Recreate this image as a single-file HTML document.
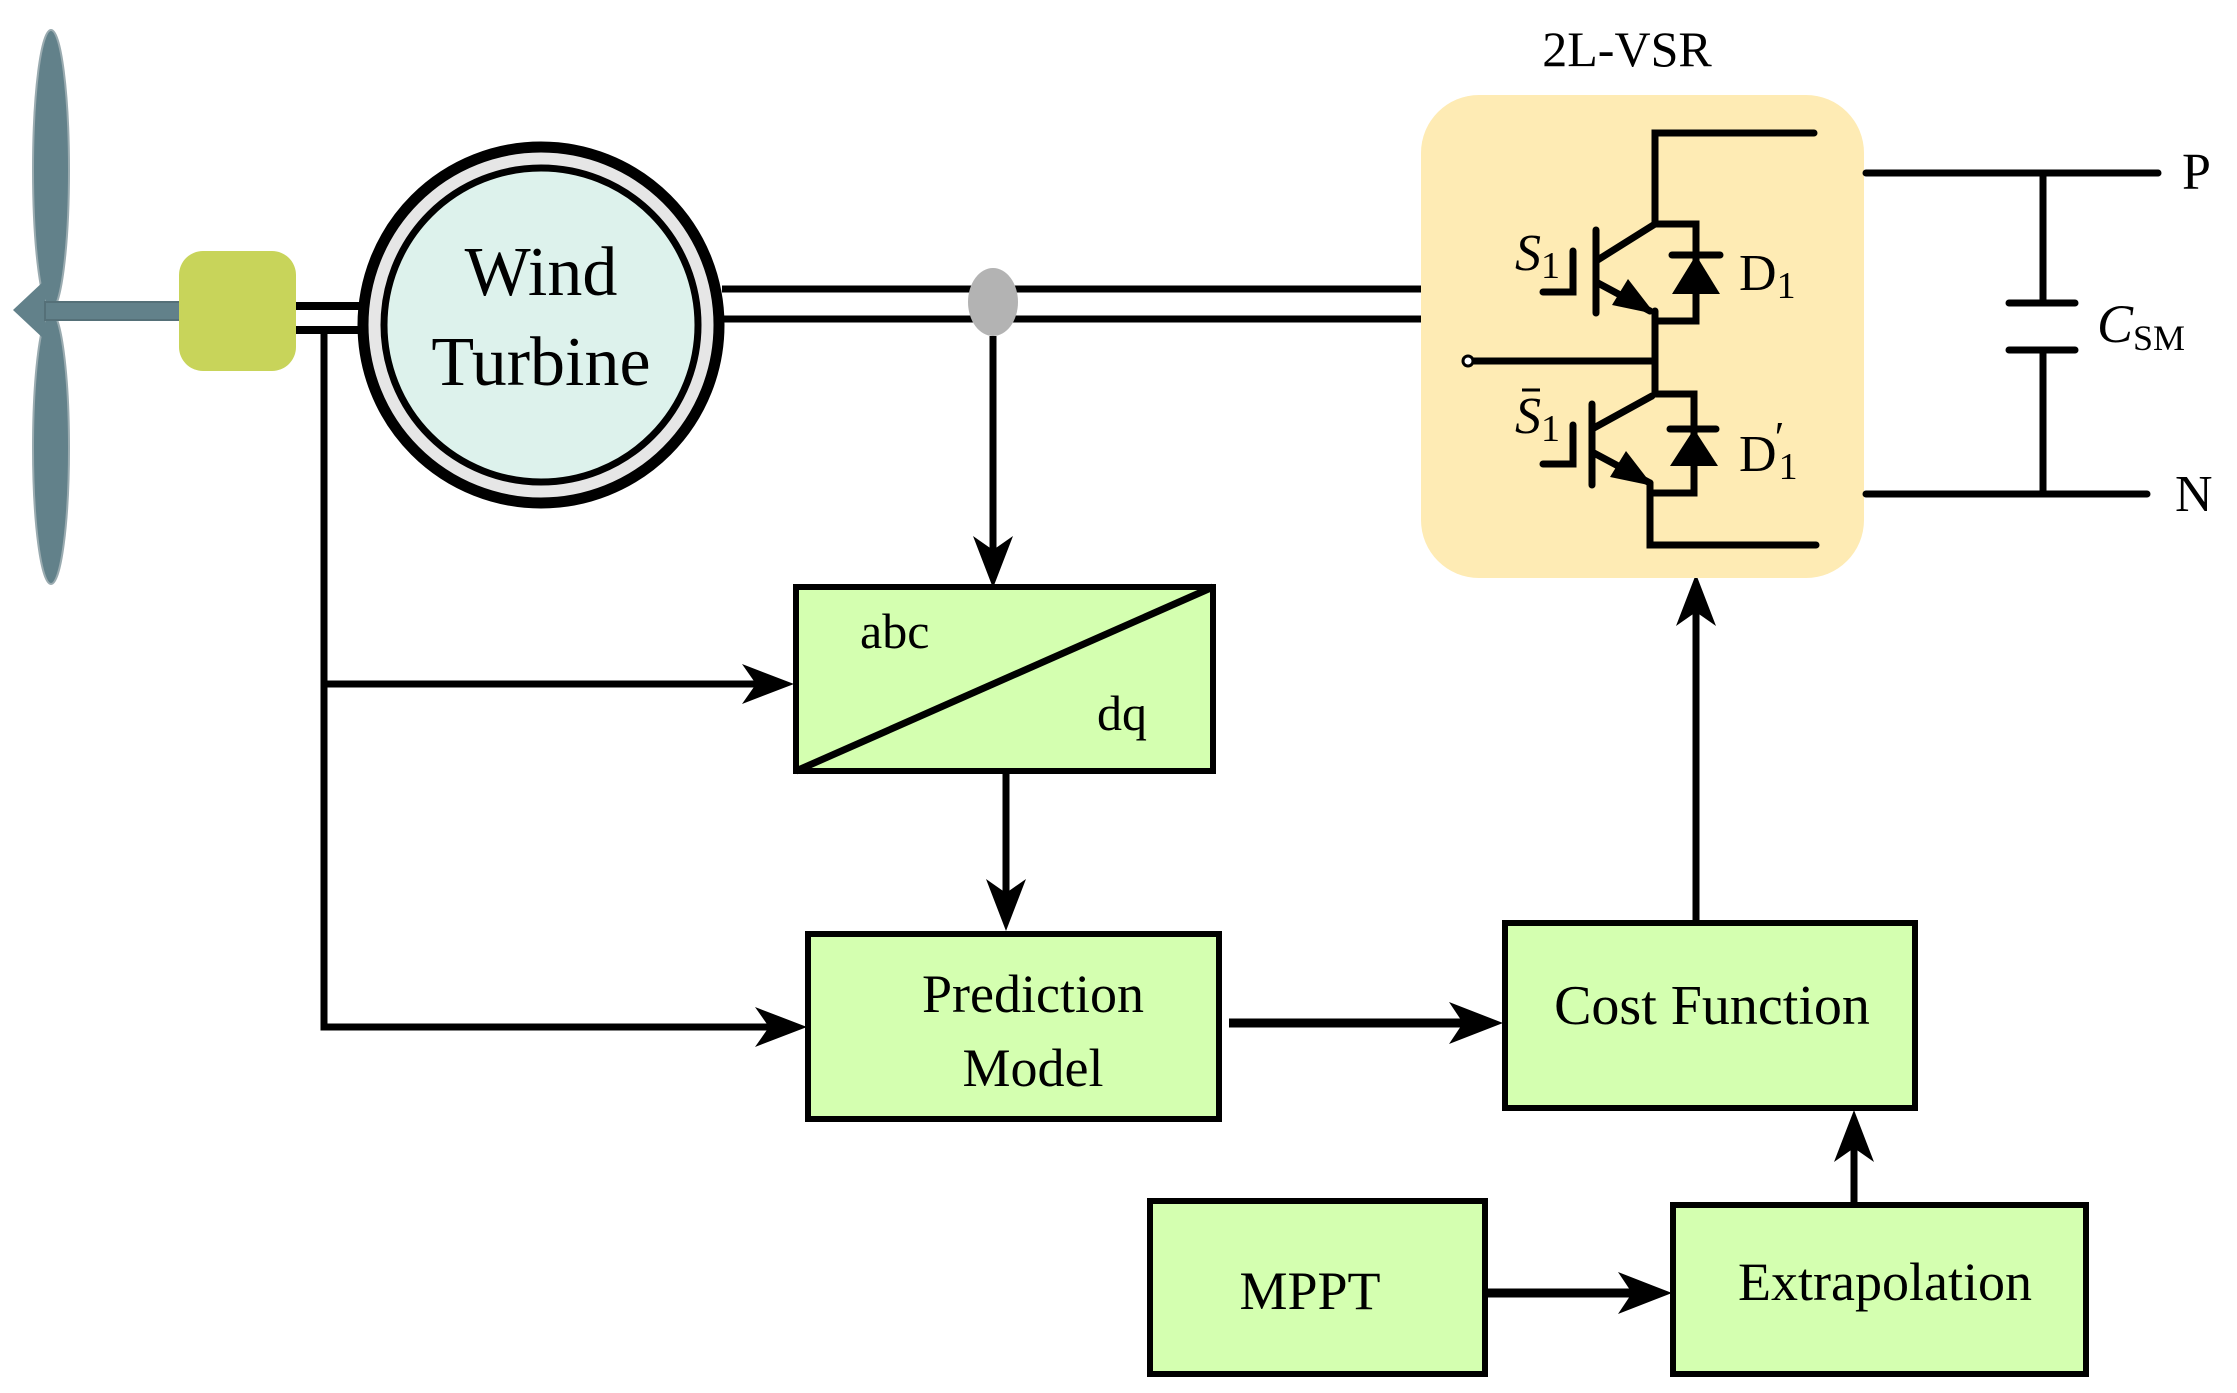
<!DOCTYPE html>
<html><head><meta charset="utf-8"><style>
html,body{margin:0;padding:0;background:#fff;}
svg{display:block;font-family:"Liberation Serif",serif;}
</style></head><body>
<svg width="2237" height="1393" viewBox="0 0 2237 1393" xmlns="http://www.w3.org/2000/svg">
<!-- blades -->
<ellipse cx="51" cy="170" rx="18" ry="140" fill="#62818a" stroke="#9aabb0" stroke-width="2"/>
<ellipse cx="51" cy="448" rx="18" ry="136" fill="#62818a" stroke="#9aabb0" stroke-width="2"/>
<polygon points="13,310 45,280 45,340" fill="#62818a"/>
<rect x="45" y="302" width="136" height="18" fill="#62818a" stroke="#557078" stroke-width="2"/>
<rect x="179" y="251" width="117" height="120" rx="24" fill="#c8d45a"/>
<!-- shaft lines -->
<line x1="296" y1="306" x2="365" y2="306" stroke="#000" stroke-width="8"/>
<line x1="296" y1="330" x2="365" y2="330" stroke="#000" stroke-width="8"/>
<!-- generator -->
<circle cx="541" cy="325" r="178" fill="#e6e6e6" stroke="#000" stroke-width="11"/>
<circle cx="541" cy="325" r="157" fill="#ddf2ec" stroke="#000" stroke-width="7"/>
<text x="541" y="295" font-size="70" text-anchor="middle">Wind</text>
<text x="541" y="385" font-size="70" text-anchor="middle">Turbine</text>
<!-- lines to VSR -->
<line x1="722" y1="289" x2="1432" y2="289" stroke="#000" stroke-width="7"/>
<line x1="722" y1="319" x2="1432" y2="319" stroke="#000" stroke-width="7"/>
<ellipse cx="993" cy="302" rx="25" ry="34" fill="#b3b3b3"/>
<line x1="993" y1="336" x2="993" y2="560" stroke="#000" stroke-width="7"/>
<polygon points="993,588 973,536 993,550 1013,536" fill="#000"/>
<!-- left feedback line -->
<polyline points="324,330 324,1027 780,1027" fill="none" stroke="#000" stroke-width="7"/>
<polygon points="807,1027 755,1007 769,1027 755,1047" fill="#000"/>
<line x1="324" y1="684" x2="770" y2="684" stroke="#000" stroke-width="7"/>
<polygon points="794,684 742,664 756,684 742,704" fill="#000"/>
<!-- abc/dq -->
<rect x="796" y="587" width="417" height="184" fill="#d4ffb0" stroke="#000" stroke-width="6"/>
<line x1="796" y1="771" x2="1213" y2="587" stroke="#000" stroke-width="7"/>
<text x="860" y="648" font-size="50">abc</text>
<text x="1097" y="730" font-size="50">dq</text>
<line x1="1006" y1="771" x2="1006" y2="905" stroke="#000" stroke-width="7"/>
<polygon points="1006,931 986,879 1006,893 1026,879" fill="#000"/>
<!-- prediction -->
<rect x="808" y="934" width="411" height="185" fill="#d4ffb0" stroke="#000" stroke-width="6"/>
<text x="1033" y="1012" font-size="54" text-anchor="middle">Prediction</text>
<text x="1033" y="1086" font-size="54" text-anchor="middle">Model</text>
<line x1="1229" y1="1023" x2="1480" y2="1023" stroke="#000" stroke-width="9"/>
<polygon points="1503,1023 1449,1002 1463,1023 1449,1044" fill="#000"/>
<!-- cost function -->
<rect x="1505" y="923" width="410" height="185" fill="#d4ffb0" stroke="#000" stroke-width="6"/>
<text x="1712" y="1024" font-size="56" text-anchor="middle">Cost Function</text>
<line x1="1696" y1="923" x2="1696" y2="600" stroke="#000" stroke-width="7"/>
<polygon points="1696,574 1676,626 1696,612 1716,626" fill="#000"/>
<!-- MPPT -->
<rect x="1150" y="1201" width="335" height="173" fill="#d4ffb0" stroke="#000" stroke-width="6"/>
<text x="1310" y="1309" font-size="54" text-anchor="middle">MPPT</text>
<line x1="1485" y1="1293" x2="1650" y2="1293" stroke="#000" stroke-width="9"/>
<polygon points="1672,1293 1618,1272 1632,1293 1618,1314" fill="#000"/>
<!-- Extrapolation -->
<rect x="1673" y="1205" width="413" height="169" fill="#d4ffb0" stroke="#000" stroke-width="6"/>
<text x="1885" y="1300" font-size="54" text-anchor="middle">Extrapolation</text>
<line x1="1854" y1="1205" x2="1854" y2="1135" stroke="#000" stroke-width="7"/>
<polygon points="1854,1110 1834,1162 1854,1148 1874,1162" fill="#000"/>
<!-- VSR -->
<text x="1627" y="66" font-size="50" text-anchor="middle">2L-VSR</text>
<rect x="1421" y="95" width="443" height="483" rx="58" fill="#feebb4"/>
<g stroke="#000" stroke-width="7" fill="none" stroke-linecap="round">
<polyline points="1814,133 1655,133 1655,224 1696,224 1696,321 1655,321"/>
<line x1="1672" y1="255" x2="1720" y2="255"/>
<line x1="1596" y1="230" x2="1596" y2="313"/>
<line x1="1596" y1="261" x2="1655" y2="224"/>
<line x1="1596" y1="282" x2="1650" y2="311"/>
<polyline points="1573,251 1573,292 1543,292"/>
<line x1="1655" y1="311" x2="1655" y2="394"/>
<line x1="1474" y1="361" x2="1655" y2="361"/>
<polyline points="1655,394 1694,394 1694,493 1650,493"/>
<line x1="1670" y1="429" x2="1716" y2="429"/>
<line x1="1592" y1="404" x2="1592" y2="485"/>
<line x1="1592" y1="429" x2="1652" y2="396"/>
<line x1="1592" y1="452" x2="1650" y2="483"/>
<polyline points="1573,425 1573,464 1543,464"/>
<polyline points="1650,483 1650,545 1816,545"/>
<line x1="1866" y1="173" x2="2158" y2="173"/>
<line x1="1866" y1="494" x2="2147" y2="494"/>
<line x1="2043" y1="173" x2="2043" y2="303"/>
<line x1="2043" y1="350" x2="2043" y2="494"/>
<line x1="2009" y1="303" x2="2075" y2="303"/>
<line x1="2009" y1="350" x2="2075" y2="350"/>
</g>
<circle cx="1468" cy="361" r="5" fill="#fff" stroke="#000" stroke-width="3"/>
<polygon points="1696,255 1672,294 1720,294" fill="#000"/>
<polygon points="1694,429 1670,466 1718,466" fill="#000"/>
<polygon points="1655,314 1612,305 1628,279" fill="#000"/>
<polygon points="1653,486 1610,477 1626,451" fill="#000"/>
<text x="1515" y="270" font-size="52" font-style="italic">S<tspan font-style="normal" font-size="38" dy="8">1</tspan></text>
<text x="1739" y="290" font-size="52">D<tspan font-size="38" dy="8">1</tspan></text>
<text x="1515" y="433" font-size="52" font-style="italic">S<tspan font-style="normal" font-size="38" dy="8">1</tspan></text>
<line x1="1522" y1="390" x2="1540" y2="390" stroke="#000" stroke-width="3"/>
<text x="1739" y="471" font-size="52">D<tspan font-size="38" dx="2" dy="8">1</tspan></text>
<text x="1772" y="452" font-size="44" font-style="italic">′</text>
<text x="2097" y="342" font-size="54" font-style="italic">C<tspan font-style="normal" font-size="36" dy="8">SM</tspan></text>
<text x="2182" y="189" font-size="52">P</text>
<text x="2175" y="511" font-size="52">N</text>
</svg>
</body></html>
